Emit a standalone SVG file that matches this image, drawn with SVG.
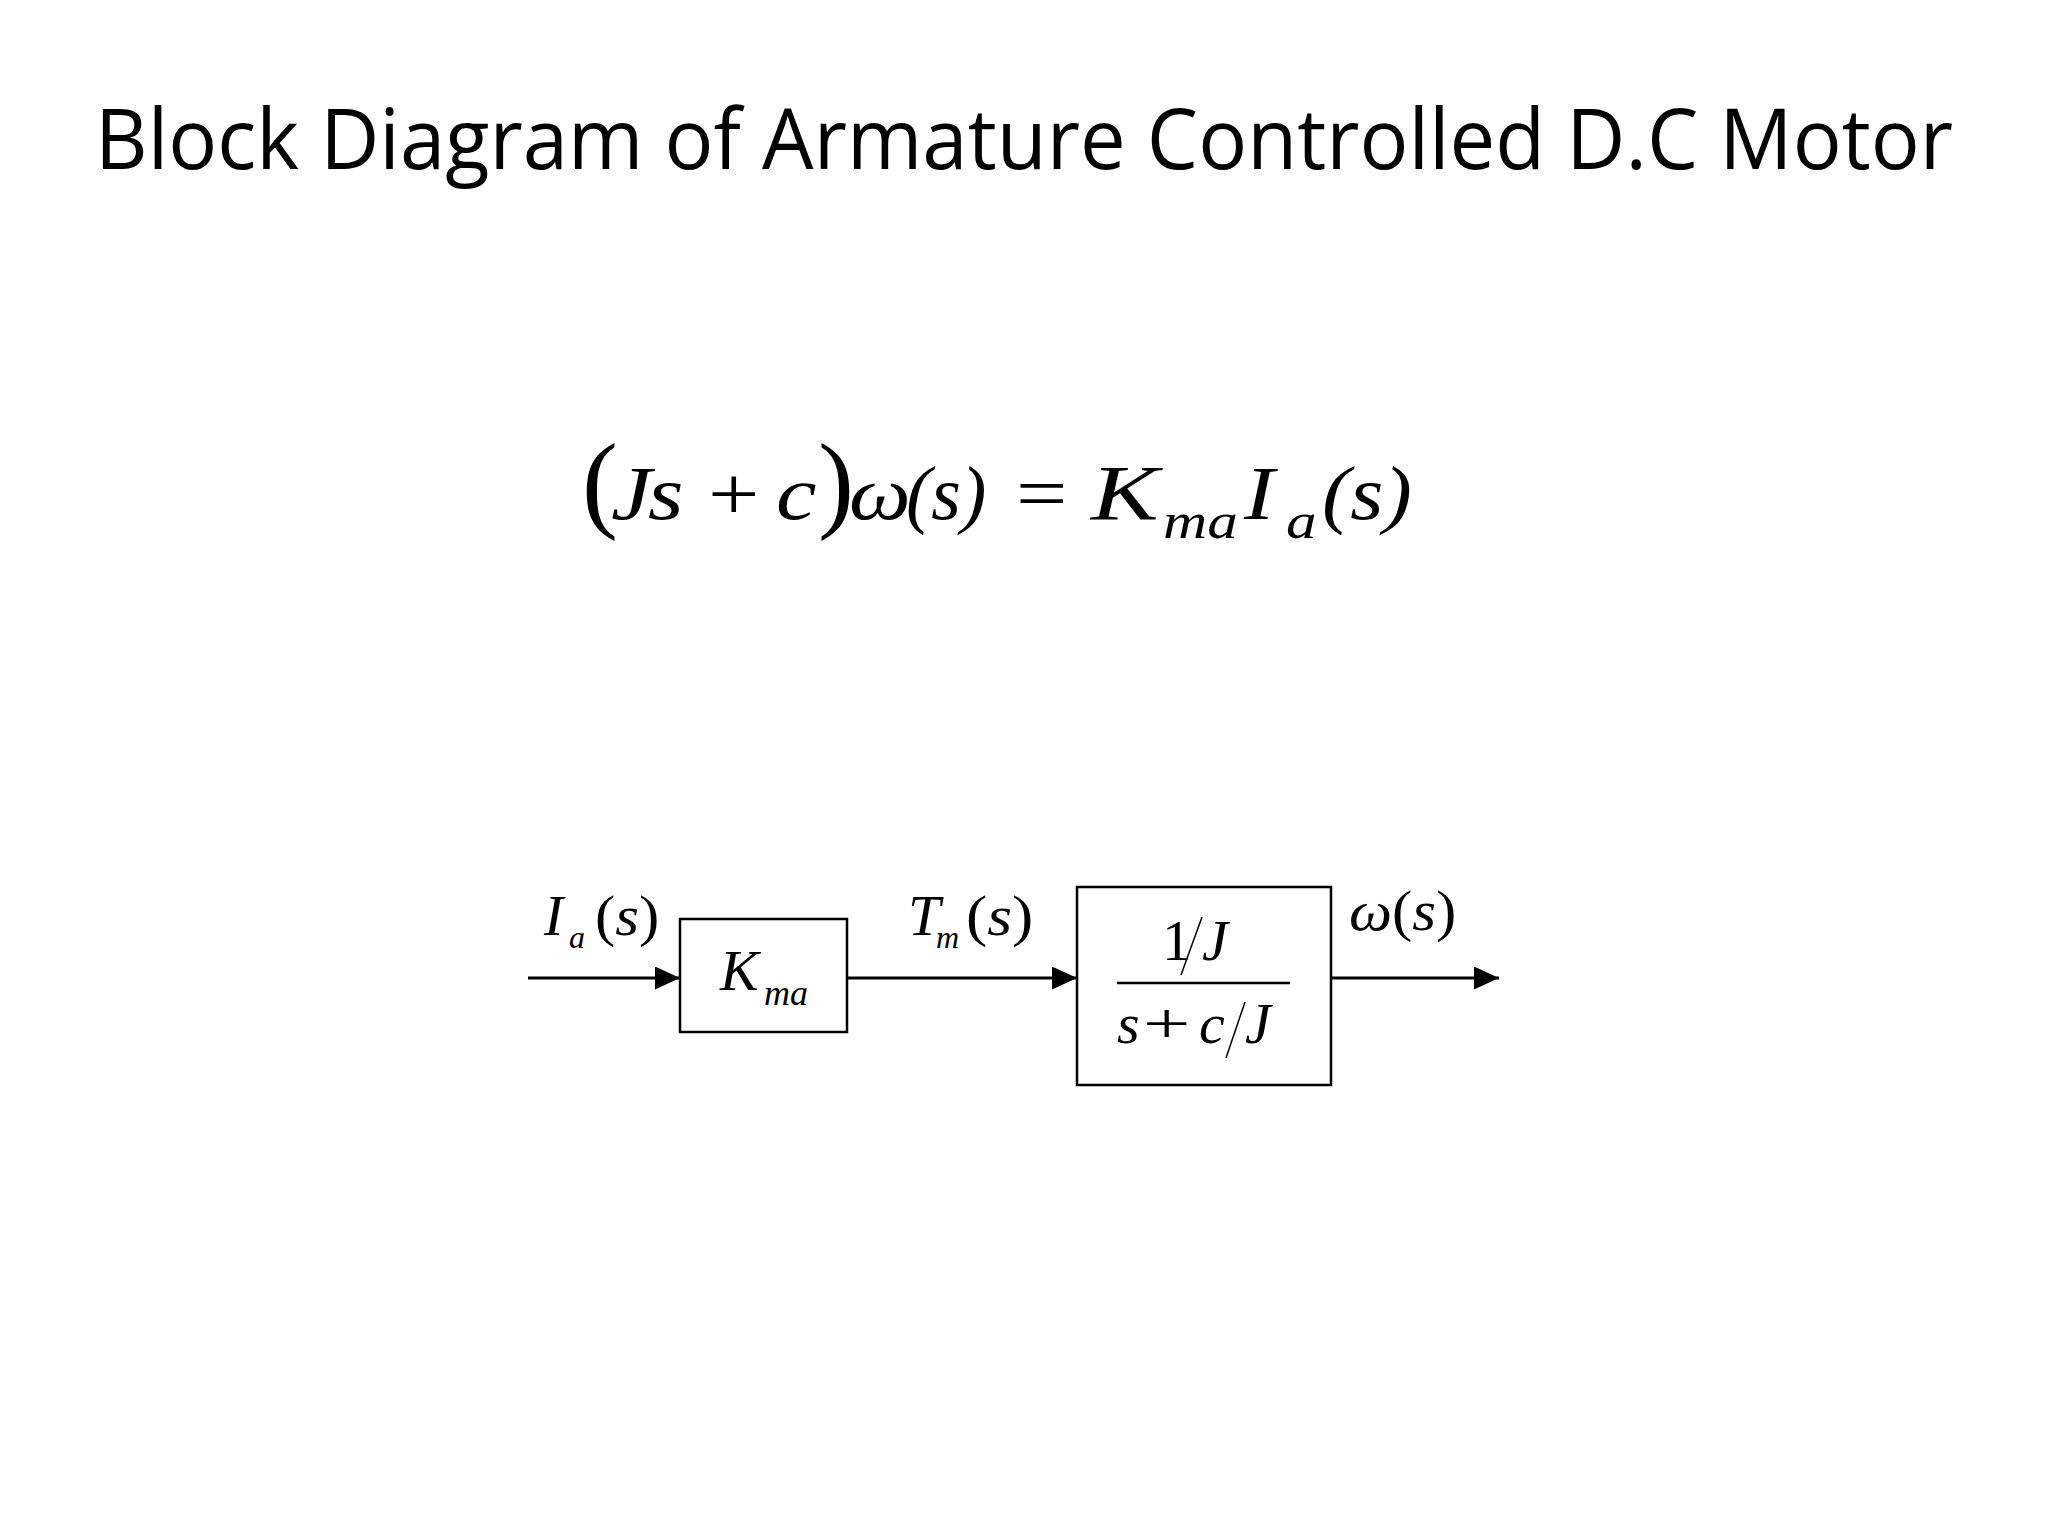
<svg xmlns="http://www.w3.org/2000/svg" width="2048" height="1536" viewBox="0 0 2048 1536">
<defs>
<marker id="arr" markerWidth="26" markerHeight="24" refX="25" refY="11.5" orient="auto" markerUnits="userSpaceOnUse">
<path d="M0,0 L25,11.5 L0,23 Z" fill="#000"/>
</marker>
</defs>
<style>
.title{font-family:"Open Sans","Noto Sans",sans-serif;font-size:84px;fill:#000}
.m{font-family:"Liberation Serif","Times New Roman",serif;fill:#000}
.i{font-style:italic}
.box{fill:none;stroke:#000;stroke-width:2.5}
.wire{fill:none;stroke:#000;stroke-width:3}
.sl{stroke:#000;stroke-width:1.5}
</style>
<rect width="2048" height="1536" fill="#fff"/>
<text id="title" class="title" x="95" y="169" textLength="1858" lengthAdjust="spacingAndGlyphs">Block Diagram of Armature Controlled D.C Motor</text>
<g id="equation">
<text class="m" x="582" y="518" font-size="108">(</text>
<text class="m i" font-size="76" transform="translate(611,519) scale(1.2,1)">J</text>
<text class="m i" font-size="76" transform="translate(648,519) scale(1.2,1)">s</text>
<text class="m" font-size="76" transform="translate(708,519) scale(1.2,1)">+</text>
<text class="m i" font-size="76" transform="translate(776,519) scale(1.2,1)">c</text>
<text class="m" x="818" y="518" font-size="108">)</text>
<text class="m i" font-size="76" transform="translate(849,519) scale(1.15,1)">ω</text>
<text class="m i" font-size="76" transform="translate(906,519) scale(1.0,1)">(s)</text>
<text class="m" font-size="76" transform="translate(1016,519) scale(1.2,1)">=</text>
<text class="m i" font-size="78" transform="translate(1091,519) scale(1.3,1)">K</text>
<text class="m i" font-size="51" transform="translate(1163,538) scale(1.2,1)">ma</text>
<text class="m i" font-size="76" transform="translate(1244,519) scale(1.2,1)">I</text>
<text class="m i" font-size="51" transform="translate(1286,538) scale(1.2,1)">a</text>
<text class="m i" font-size="76" transform="translate(1322,519) scale(1.12,1)">(s)</text>
</g>
<g id="connectors">
<line class="wire" x1="528" y1="978" x2="680" y2="978" marker-end="url(#arr)"/>
<line class="wire" x1="847" y1="978" x2="1077" y2="978" marker-end="url(#arr)"/>
<line class="wire" x1="1331" y1="978" x2="1499" y2="978" marker-end="url(#arr)"/>
</g>
<g id="label-input">
<text class="m i" x="544" y="935" font-size="58">I</text>
<text class="m i" x="569" y="948" font-size="32">a</text>
<text class="m" font-size="58" transform="translate(595,935) scale(1.05,1)">(<tspan font-style="italic">s</tspan>)</text>
</g>
<g id="node-kma">
<rect class="box" x="680" y="919" width="167" height="113"/>
<text class="m i" x="720" y="990" font-size="58">K</text>
<text class="m i" x="764" y="1005" font-size="36">ma</text>
</g>
<g id="label-tm">
<text class="m i" x="908" y="935" font-size="58">T</text>
<text class="m i" x="936" y="948" font-size="32">m</text>
<text class="m" font-size="58" transform="translate(966,935) scale(1.1,1)">(<tspan font-style="italic">s</tspan>)</text>
</g>
<g id="node-tf">
<rect class="box" x="1077" y="887" width="254" height="198"/>
<text class="m" x="1162" y="960" font-size="58">1</text>
<line class="sl" x1="1202" y1="917" x2="1181" y2="975"/>
<text class="m i" x="1202" y="960" font-size="58">J</text>
<line x1="1117" y1="983" x2="1290" y2="983" stroke="#000" stroke-width="2.5"/>
<text class="m i" x="1117" y="1043" font-size="58">s</text>
<text class="m" font-size="58" transform="translate(1143,1043) scale(1.45,1)">+</text>
<text class="m i" x="1199" y="1043" font-size="58">c</text>
<line class="sl" x1="1245" y1="1002" x2="1226" y2="1058"/>
<text class="m i" x="1245" y="1043" font-size="58">J</text>
</g>
<g id="label-omega">
<text class="m" font-size="58" transform="translate(1349,930) scale(1.05,1)"><tspan font-style="italic">ω</tspan>(<tspan font-style="italic">s</tspan>)</text>
</g>
</svg>
